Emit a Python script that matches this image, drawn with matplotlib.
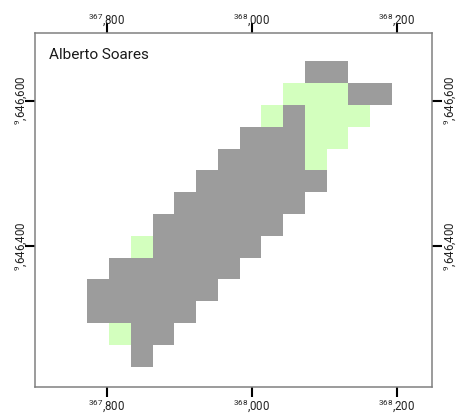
import matplotlib
matplotlib.use("Agg")
import matplotlib.pyplot as plt
from matplotlib.colors import ListedColormap
from matplotlib.transforms import Affine2D
import numpy as np

title = "Alberto Soares"

x_edges = [367773, 367803, 367833, 367863, 367893, 367923, 367953, 367983,
           368013, 368043, 368073, 368103, 368133, 368163, 368193]
y_edges = [9646654, 9646624, 9646594, 9646564, 9646534, 9646504, 9646474, 9646444,
           9646414, 9646384, 9646354, 9646324, 9646294, 9646264, 9646234]

# 0 = nothing, 1 = green class, 2 = grey class (top row first)
cells = [
    [0, 0, 0, 0, 0, 0, 0, 0, 0, 0, 2, 2, 0, 0],
    [0, 0, 0, 0, 0, 0, 0, 0, 0, 1, 1, 1, 2, 2],
    [0, 0, 0, 0, 0, 0, 0, 0, 1, 2, 1, 1, 1, 0],
    [0, 0, 0, 0, 0, 0, 0, 2, 2, 2, 1, 1, 0, 0],
    [0, 0, 0, 0, 0, 0, 2, 2, 2, 2, 1, 0, 0, 0],
    [0, 0, 0, 0, 0, 2, 2, 2, 2, 2, 2, 0, 0, 0],
    [0, 0, 0, 0, 2, 2, 2, 2, 2, 2, 0, 0, 0, 0],
    [0, 0, 0, 2, 2, 2, 2, 2, 2, 0, 0, 0, 0, 0],
    [0, 0, 1, 2, 2, 2, 2, 2, 0, 0, 0, 0, 0, 0],
    [0, 2, 2, 2, 2, 2, 2, 0, 0, 0, 0, 0, 0, 0],
    [2, 2, 2, 2, 2, 2, 0, 0, 0, 0, 0, 0, 0, 0],
    [2, 2, 2, 2, 2, 0, 0, 0, 0, 0, 0, 0, 0, 0],
    [0, 1, 2, 2, 0, 0, 0, 0, 0, 0, 0, 0, 0, 0],
    [0, 0, 2, 0, 0, 0, 0, 0, 0, 0, 0, 0, 0, 0],
]

x_ticks = [367800, 368000, 368200]
x_labels = ["$^{367}$,800", "$^{368}$,000", "$^{368}$,200"]
y_ticks = [9646400, 9646600]
y_labels = ["$^{9}$,646,400", "$^{9}$,646,600"]

plt.rcParams['font.family'] = ['Roboto', 'DejaVu Sans']
plt.rcParams['mathtext.fontset'] = 'custom'
plt.rcParams['mathtext.rm'] = 'Roboto'
plt.rcParams['mathtext.default'] = 'rm'

W, H = 457, 413
fig = plt.figure(figsize=(W / 100, H / 100), dpi=100)
ax = fig.add_axes([34.5 / W, 1 - 387.3 / H, (431.7 - 34.5) / W, (387.3 - 33) / H])

grid = np.ma.masked_equal(np.array(cells), 0)
ax.pcolormesh(x_edges, y_edges, grid, cmap=ListedColormap(["#D3FFBE", "#9C9C9C"]),
              vmin=1, vmax=2, linewidth=0)

ax.set_xlim(367700, 368248)
ax.set_ylim(9646205.8, 9646692.8)

for s in ax.spines.values():
    s.set_color("#808080")
    s.set_linewidth(1.1)

ax.set_xticks(x_ticks, x_labels)
ax.set_yticks(y_ticks, y_labels)
ax.tick_params(axis='both', direction='out', length=7.2, width=1.5, color='black',
               labelsize=8.3, labelcolor='#222222',
               top=True, right=True, labeltop=True, labelright=True)
ax.tick_params(axis='x', pad=0)
ax.tick_params(axis='y', pad=0, labelrotation=90)

# top and left labels sit closer to the ticks than the other two sides
for t in ax.xaxis.get_major_ticks():
    t.label2.set_transform(t.label2.get_transform() + Affine2D().translate(0, -5))
for t in ax.yaxis.get_major_ticks():
    t.label1.set_transform(t.label1.get_transform() + Affine2D().translate(4.5, 0))
    t.label1.set_va('center')
    t.label2.set_va('center')

ax.text(49 / W, 1 - 55 / H, title, transform=fig.transFigure, fontsize=11,
        color='#1a1a1a', va='center', ha='left')

fig.savefig("out.png", dpi=100)
